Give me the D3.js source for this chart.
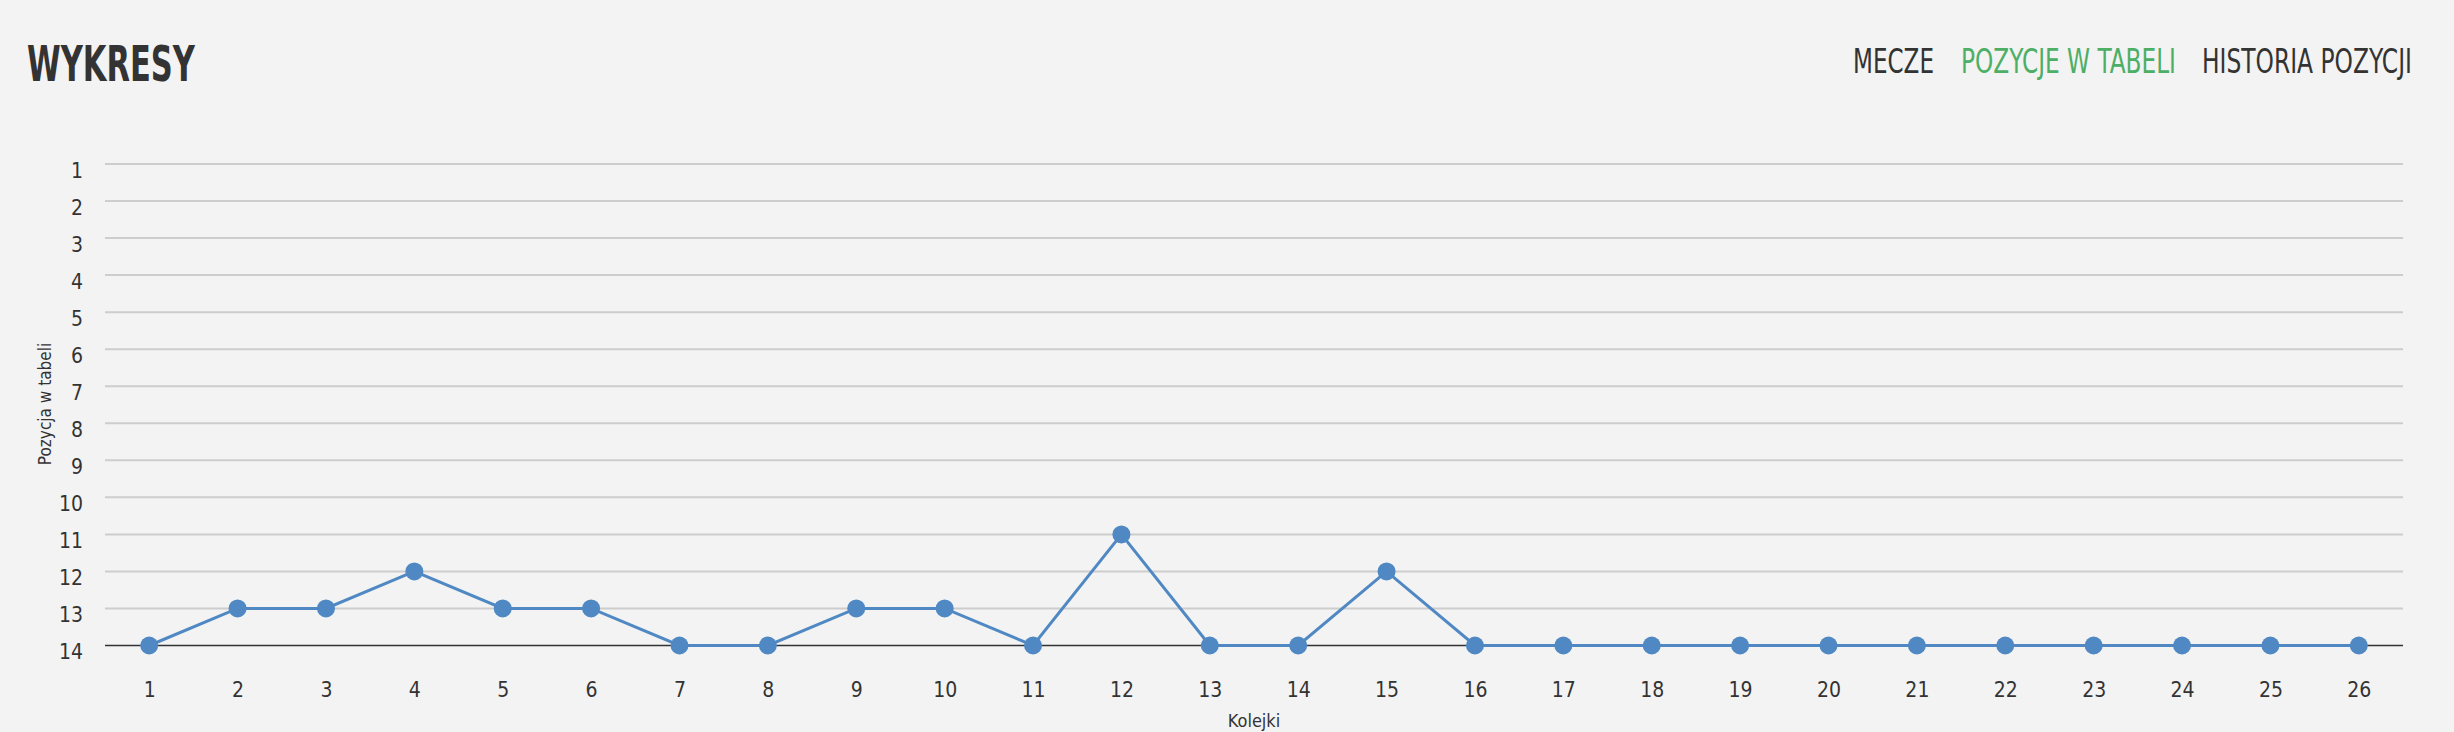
<!DOCTYPE html>
<html lang="pl">
  <head>
    <meta charset="UTF-8" />
    <script src="https://d3js.org/d3.v7.min.js"></script>
    <title>Wykresy</title>
    <style>
      html, body { margin: 0; padding: 0; background: #f3f3f3; }
      svg { display: block; }
      text { font-family: "DejaVu Sans Condensed", "Liberation Sans Narrow", sans-serif; fill: #333; }
    </style>
  </head>
  <body>
    <svg id="chart" width="2454" height="732"></svg>

    <script>
      // data
      const rounds = d3.range(1, 27); // Kolejki 1..26
      const positions = [14, 13, 13, 12, 13, 13, 14, 14, 13, 13, 14, 11, 14, 14, 12,
                         14, 14, 14, 14, 14, 14, 14, 14, 14, 14, 14];
      const yTicks = d3.range(1, 15);
      const navItems = ["MECZE", "POZYCJE W TABELI", "HISTORIA POZYCJI"];
      const navWidths = [81, 215, 210];
      const navX = [1853, 1961, 2202];
      const activeNav = "POZYCJE W TABELI";

      const svg = d3.select("#chart");

      // squeeze a text horizontally to a target width (the site uses a condensed face)
      function fitWidth(sel, w, x0, y0) {
        const natural = sel.node().getComputedTextLength();
        const sx = Math.min(1, w / natural);
        sel.attr("x", 0).attr("y", 0)
          .attr("transform", `translate(${x0},${y0}) scale(${sx},1)`);
      }

      // header
      const title = svg.append("text")
        .attr("font-size", 50)
        .attr("font-weight", "bold")
        .text("WYKRESY");
      fitWidth(title, 168, 27, 81);

      navItems.forEach((d, i) => {
        const t = svg.append("text")
          .attr("font-size", 33)
          .style("fill", d === activeNav ? "#4caf65" : "#333")
          .text(d);
        fitWidth(t, navWidths[i], navX[i], 73);
      });

      // scales
      const x = d3.scalePoint()
        .domain(rounds)
        .range([105, 2403])
        .padding(0.5);

      const y = d3.scaleLinear()
        .domain([1, 14])
        .range([164, 645.5]);

      // gridlines
      svg.append("g")
        .selectAll("line")
        .data(yTicks)
        .enter()
        .append("line")
        .attr("x1", 105)
        .attr("x2", 2403)
        .attr("y1", d => y(d))
        .attr("y2", d => y(d))
        .attr("stroke", d => d === 14 ? "#333" : "#cdcdcd")
        .attr("stroke-width", d => d === 14 ? 1.5 : 2);

      // y axis labels
      const yg = svg.append("g")
        .attr("transform", "translate(83,0)")
        .call(d3.axisLeft(y).tickValues(yTicks).tickSize(0).tickPadding(0));
      yg.select(".domain").remove();
      yg.attr("font-family", null).attr("font-size", null);
      yg.selectAll("text")
        .attr("font-size", 21)
        .attr("dy", 13)
        .attr("fill", null);

      // x axis labels
      const xg = svg.append("g")
        .attr("transform", "translate(0,697)")
        .call(d3.axisBottom(x).tickSize(0).tickPadding(0));
      xg.select(".domain").remove();
      xg.attr("font-family", null).attr("font-size", null);
      xg.selectAll("text")
        .attr("font-size", 21)
        .attr("dy", 0)
        .attr("y", 0)
        .attr("fill", null);

      // axis titles
      svg.append("text")
        .attr("x", 1254)
        .attr("y", 727)
        .attr("text-anchor", "middle")
        .attr("font-size", 18)
        .text("Kolejki");

      svg.append("text")
        .attr("transform", "translate(51,404) rotate(-90)")
        .attr("text-anchor", "middle")
        .attr("font-size", 17)
        .text("Pozycja w tabeli");

      // line + points
      const series = rounds.map((r, i) => ({ round: r, pos: positions[i] }));

      svg.append("path")
        .datum(series)
        .attr("fill", "none")
        .attr("stroke", "#4f88c3")
        .attr("stroke-width", 3)
        .attr("d", d3.line().x(d => x(d.round)).y(d => y(d.pos)));

      svg.append("g")
        .selectAll("circle")
        .data(series)
        .enter()
        .append("circle")
        .attr("cx", d => x(d.round))
        .attr("cy", d => y(d.pos))
        .attr("r", 9)
        .attr("fill", "#4f88c3");
    </script>
  </body>
</html>
